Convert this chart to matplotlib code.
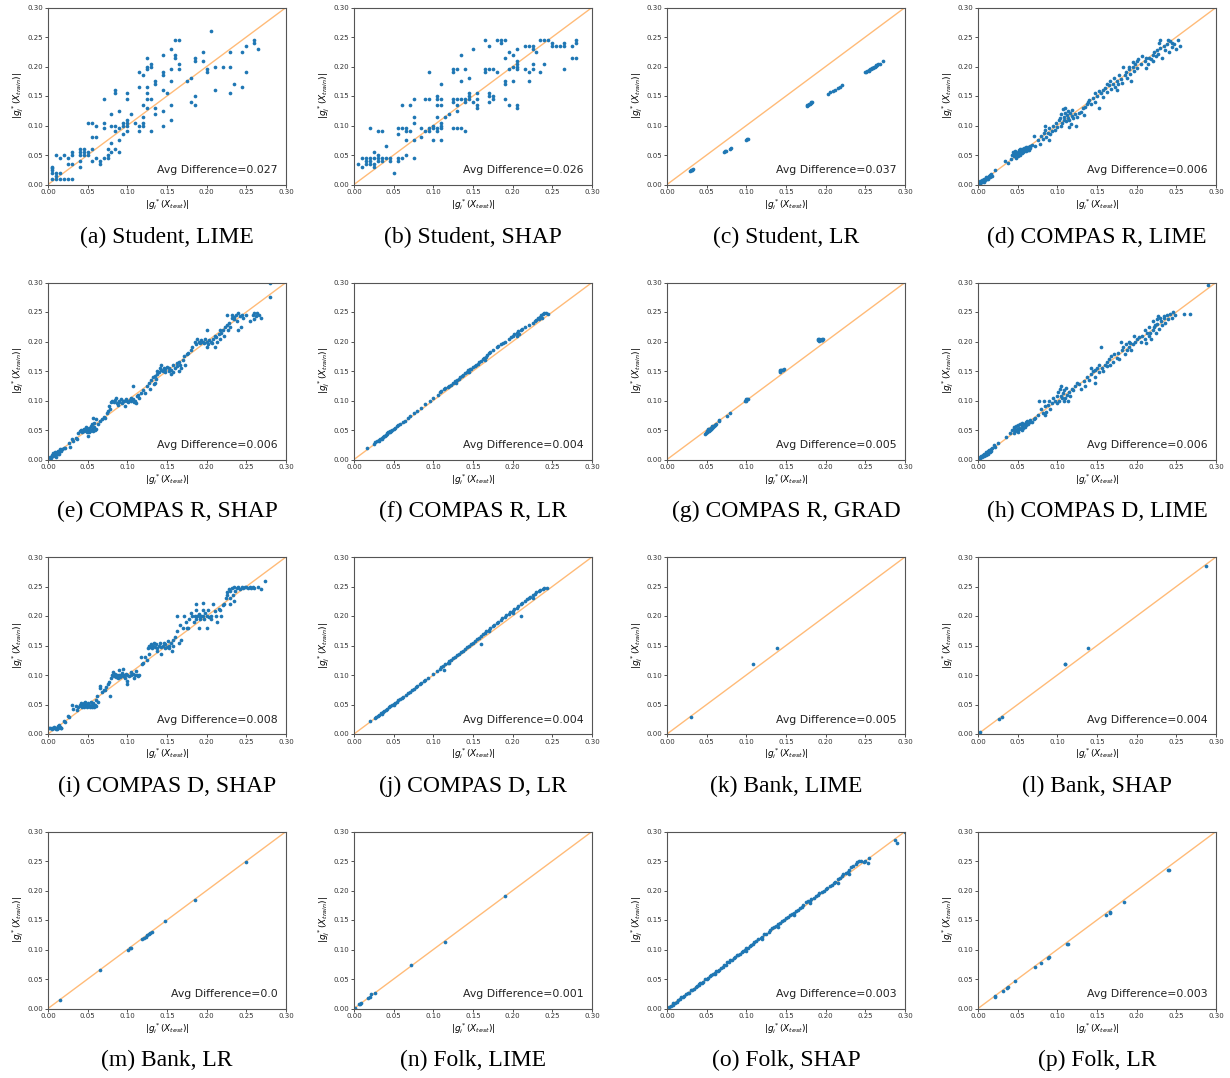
import matplotlib
matplotlib.use("Agg")
import matplotlib.pyplot as plt

captions = ["(a) Student, LIME", "(b) Student, SHAP", "(c) Student, LR", "(d) COMPAS R, LIME",
            "(e) COMPAS R, SHAP", "(f) COMPAS R, LR", "(g) COMPAS R, GRAD", "(h) COMPAS D, LIME",
            "(i) COMPAS D, SHAP", "(j) COMPAS D, LR", "(k) Bank, LIME", "(l) Bank, SHAP",
            "(m) Bank, LR", "(n) Folk, LIME", "(o) Folk, SHAP", "(p) Folk, LR"]
avg_diff = ["0.027", "0.026", "0.037", "0.006", "0.006", "0.004", "0.005", "0.006",
            "0.008", "0.004", "0.005", "0.004", "0.0", "0.001", "0.003", "0.003"]
ticks = [0.00, 0.05, 0.10, 0.15, 0.20, 0.25, 0.30]

pts_a = [(0.005,0.03),(0.005,0.028),(0.005,0.025),(0.005,0.02),(0.005,0.01),(0.01,0.05),(0.01,0.02),(0.01,0.015),(0.01,0.01),(0.015,0.045),(0.015,0.02),(0.015,0.01),(0.02,0.05),(0.02,0.01),(0.025,0.045),(0.025,0.035),(0.025,0.01),(0.03,0.055),(0.03,0.05),(0.03,0.035),(0.03,0.01),(0.04,0.06),(0.04,0.055),(0.04,0.05),(0.04,0.04),(0.04,0.03),(0.045,0.06),(0.045,0.055),(0.045,0.05),(0.05,0.055),(0.05,0.05),(0.05,0.105),(0.055,0.105),(0.055,0.08),(0.055,0.06),(0.055,0.04),(0.06,0.1),(0.06,0.08),(0.06,0.045),(0.065,0.04),(0.065,0.035),(0.07,0.145),(0.07,0.105),(0.07,0.095),(0.07,0.045),(0.075,0.06),(0.075,0.05),(0.075,0.045),(0.08,0.12),(0.08,0.1),(0.08,0.07),(0.08,0.055),(0.085,0.16),(0.085,0.155),(0.085,0.1),(0.085,0.09),(0.085,0.06),(0.09,0.125),(0.09,0.095),(0.09,0.075),(0.09,0.055),(0.095,0.105),(0.095,0.1),(0.095,0.085),(0.1,0.155),(0.1,0.145),(0.1,0.11),(0.1,0.105),(0.1,0.1),(0.1,0.09),(0.105,0.12),(0.11,0.105),(0.115,0.19),(0.115,0.165),(0.115,0.1),(0.115,0.09),(0.12,0.185),(0.12,0.135),(0.12,0.115),(0.12,0.105),(0.12,0.1),(0.125,0.215),(0.125,0.2),(0.125,0.195),(0.125,0.165),(0.125,0.155),(0.125,0.145),(0.125,0.13),(0.13,0.205),(0.13,0.2),(0.13,0.145),(0.13,0.09),(0.135,0.175),(0.135,0.17),(0.135,0.13),(0.135,0.12),(0.145,0.22),(0.145,0.19),(0.145,0.185),(0.145,0.16),(0.145,0.125),(0.145,0.1),(0.15,0.155),(0.155,0.23),(0.155,0.195),(0.155,0.175),(0.155,0.135),(0.155,0.11),(0.16,0.245),(0.16,0.22),(0.16,0.215),(0.165,0.245),(0.165,0.205),(0.165,0.195),(0.175,0.175),(0.18,0.18),(0.18,0.14),(0.185,0.215),(0.185,0.21),(0.185,0.15),(0.185,0.135),(0.195,0.225),(0.195,0.21),(0.2,0.195),(0.2,0.19),(0.205,0.26),(0.21,0.2),(0.21,0.16),(0.22,0.2),(0.23,0.225),(0.23,0.2),(0.23,0.155),(0.235,0.17),(0.245,0.225),(0.245,0.165),(0.25,0.235),(0.25,0.19),(0.26,0.245),(0.26,0.24),(0.265,0.23)]

pts_b = [(0.005,0.035),(0.01,0.045),(0.01,0.03),(0.015,0.045),(0.015,0.04),(0.015,0.035),(0.02,0.095),(0.02,0.045),(0.02,0.04),(0.02,0.035),(0.025,0.055),(0.025,0.045),(0.025,0.035),(0.025,0.03),(0.03,0.09),(0.03,0.05),(0.03,0.045),(0.03,0.04),(0.035,0.09),(0.035,0.045),(0.035,0.04),(0.04,0.065),(0.04,0.045),(0.045,0.045),(0.045,0.04),(0.05,0.02),(0.055,0.095),(0.055,0.085),(0.055,0.045),(0.055,0.04),(0.06,0.135),(0.06,0.095),(0.06,0.045),(0.065,0.095),(0.065,0.09),(0.065,0.075),(0.065,0.05),(0.07,0.135),(0.07,0.09),(0.075,0.145),(0.075,0.115),(0.075,0.105),(0.075,0.075),(0.075,0.045),(0.085,0.095),(0.085,0.08),(0.09,0.145),(0.09,0.09),(0.095,0.19),(0.095,0.145),(0.095,0.095),(0.095,0.09),(0.1,0.1),(0.1,0.095),(0.1,0.075),(0.105,0.15),(0.105,0.145),(0.105,0.135),(0.105,0.115),(0.105,0.095),(0.105,0.09),(0.11,0.17),(0.11,0.145),(0.11,0.135),(0.11,0.105),(0.11,0.1),(0.11,0.095),(0.11,0.075),(0.115,0.115),(0.12,0.12),(0.125,0.195),(0.125,0.19),(0.125,0.145),(0.125,0.14),(0.125,0.095),(0.13,0.195),(0.13,0.145),(0.13,0.135),(0.13,0.125),(0.13,0.095),(0.135,0.22),(0.135,0.175),(0.135,0.145),(0.135,0.095),(0.14,0.195),(0.14,0.145),(0.14,0.14),(0.14,0.09),(0.145,0.18),(0.145,0.155),(0.145,0.15),(0.145,0.145),(0.15,0.23),(0.15,0.14),(0.155,0.155),(0.155,0.145),(0.155,0.135),(0.155,0.13),(0.165,0.245),(0.165,0.195),(0.165,0.19),(0.17,0.235),(0.17,0.195),(0.17,0.155),(0.17,0.15),(0.17,0.14),(0.175,0.195),(0.175,0.15),(0.175,0.145),(0.18,0.245),(0.18,0.19),(0.185,0.245),(0.185,0.24),(0.19,0.245),(0.19,0.215),(0.19,0.175),(0.19,0.17),(0.19,0.145),(0.195,0.225),(0.195,0.195),(0.195,0.135),(0.2,0.22),(0.2,0.2),(0.2,0.175),(0.205,0.23),(0.205,0.21),(0.205,0.205),(0.205,0.2),(0.205,0.195),(0.205,0.135),(0.205,0.13),(0.215,0.235),(0.215,0.195),(0.22,0.235),(0.22,0.19),(0.22,0.175),(0.225,0.235),(0.225,0.23),(0.225,0.205),(0.225,0.195),(0.23,0.225),(0.235,0.245),(0.235,0.19),(0.24,0.245),(0.24,0.205),(0.245,0.245),(0.25,0.24),(0.25,0.235),(0.255,0.235),(0.26,0.235),(0.265,0.24),(0.265,0.235),(0.265,0.195),(0.275,0.235),(0.275,0.215),(0.28,0.245),(0.28,0.24),(0.28,0.215)]

pts_c = [(0.029,0.023),(0.030,0.024),(0.031,0.024),(0.032,0.025),(0.033,0.026),(0.072,0.055),(0.073,0.056),(0.074,0.057),(0.080,0.061),(0.081,0.062),(0.100,0.076),(0.101,0.077),(0.102,0.077),(0.176,0.133),(0.177,0.134),(0.178,0.135),(0.179,0.136),(0.180,0.137),(0.181,0.138),(0.182,0.139),(0.183,0.14),(0.203,0.154),(0.206,0.157),(0.209,0.159),(0.212,0.161),(0.215,0.164),(0.218,0.166),(0.221,0.168),(0.249,0.19),(0.251,0.191),(0.252,0.192),(0.254,0.193),(0.255,0.194),(0.256,0.195),(0.257,0.196),(0.258,0.197),(0.259,0.197),(0.26,0.198),(0.261,0.199),(0.262,0.2),(0.263,0.201),(0.264,0.202),(0.265,0.203),(0.266,0.204),(0.268,0.205),(0.272,0.209)]

pts_d = [(0.001,0.001),(0.002,0.003),(0.003,0.002),(0.004,0.005),(0.005,0.004),(0.006,0.007),(0.007,0.005),(0.008,0.009),(0.009,0.008),(0.01,0.012),(0.011,0.009),(0.012,0.013),(0.013,0.011),(0.014,0.015),(0.015,0.012),(0.016,0.018),(0.017,0.014),(0.005,0.008),(0.008,0.006),(0.012,0.01),(0.003,0.006),(0.015,0.016),(0.022,0.025),(0.018,0.015),
(0.034,0.04),(0.038,0.037),(0.043,0.05),(0.044,0.055),(0.045,0.048),(0.046,0.053),(0.047,0.057),(0.048,0.045),(0.049,0.05),(0.05,0.055),(0.051,0.052),(0.052,0.058),(0.053,0.05),(0.054,0.056),(0.055,0.053),(0.056,0.06),(0.057,0.055),(0.058,0.062),(0.059,0.058),(0.06,0.064),(0.061,0.057),(0.062,0.061),(0.063,0.063),(0.064,0.059),(0.065,0.066),(0.066,0.062),(0.068,0.067),(0.07,0.083),(0.072,0.065),(0.075,0.075),(0.045,0.052),(0.048,0.053),(0.05,0.048),(0.052,0.054),(0.055,0.057),(0.058,0.056),(0.06,0.06),(0.063,0.058),(0.042,0.043),(0.053,0.06),
(0.078,0.068),(0.08,0.082),(0.082,0.077),(0.083,0.087),(0.085,0.093),(0.086,0.08),(0.088,0.088),(0.09,0.095),(0.091,0.085),(0.093,0.091),(0.095,0.1),(0.097,0.092),(0.098,0.104),(0.1,0.097),(0.102,0.11),(0.085,0.1),(0.09,0.075),
(0.103,0.113),(0.105,0.12),(0.106,0.105),(0.107,0.128),(0.108,0.115),(0.109,0.11),(0.11,0.122),(0.111,0.107),(0.112,0.118),(0.113,0.113),(0.114,0.125),(0.115,0.11),(0.116,0.121),(0.117,0.103),(0.118,0.116),(0.119,0.127),(0.12,0.112),(0.122,0.12),(0.124,0.1),(0.125,0.115),(0.127,0.122),(0.13,0.123),(0.132,0.13),(0.133,0.118),(0.135,0.132),(0.137,0.137),(0.139,0.14),(0.105,0.1),(0.11,0.13),(0.115,0.098),
(0.14,0.143),(0.142,0.136),(0.145,0.147),(0.147,0.14),(0.148,0.155),(0.15,0.15),(0.152,0.158),(0.153,0.13),(0.155,0.155),(0.157,0.16),(0.158,0.148),(0.16,0.163),(0.162,0.17),(0.163,0.157),(0.165,0.168),(0.167,0.175),(0.168,0.162),(0.17,0.17),(0.172,0.18),(0.173,0.165),(0.175,0.175),(0.177,0.17),(0.178,0.185),(0.18,0.178),(0.182,0.172),(0.183,0.2),(0.185,0.185),(0.187,0.19),(0.188,0.18),(0.19,0.195),(0.192,0.188),(0.193,0.175),(0.195,0.2),(0.197,0.192),(0.198,0.205),(0.2,0.198),(0.195,0.208),(0.19,0.2),(0.2,0.21),(0.175,0.16),
(0.202,0.213),(0.205,0.205),(0.207,0.218),(0.21,0.21),(0.212,0.215),(0.214,0.205),(0.216,0.215),(0.218,0.212),(0.22,0.22),(0.222,0.225),(0.224,0.218),(0.225,0.228),(0.227,0.222),(0.228,0.24),(0.23,0.232),(0.232,0.215),(0.234,0.235),(0.236,0.228),(0.238,0.238),(0.24,0.245),(0.241,0.225),(0.242,0.243),(0.244,0.24),(0.245,0.233),(0.247,0.238),(0.25,0.23),(0.252,0.245),(0.254,0.235),(0.212,0.198),(0.22,0.21),(0.23,0.245)]

pts_e = [(0.002,0.002),(0.003,0.005),(0.004,0.003),(0.005,0.008),(0.006,0.006),(0.007,0.01),(0.008,0.007),(0.009,0.012),(0.01,0.009),(0.011,0.013),(0.012,0.01),(0.013,0.015),(0.014,0.012),(0.015,0.017),(0.016,0.014),(0.017,0.016),(0.018,0.018),(0.01,0.005),(0.006,0.011),(0.014,0.009),(0.02,0.02),(0.022,0.02),
(0.026,0.028),(0.028,0.022),(0.03,0.035),(0.032,0.032),(0.035,0.037),(0.037,0.035),(0.038,0.045),
(0.04,0.048),(0.042,0.05),(0.043,0.046),(0.045,0.052),(0.046,0.048),(0.047,0.05),(0.048,0.055),(0.049,0.047),(0.05,0.051),(0.051,0.04),(0.052,0.053),(0.053,0.049),(0.054,0.056),(0.055,0.05),(0.056,0.052),(0.057,0.048),(0.058,0.055),(0.059,0.05),(0.06,0.051),(0.058,0.062),(0.057,0.07),(0.055,0.06),(0.06,0.069),(0.044,0.05),(0.048,0.05),(0.052,0.047),
(0.063,0.06),(0.065,0.065),(0.068,0.068),(0.07,0.072),(0.072,0.07),(0.074,0.078),(0.075,0.082),(0.077,0.09),(0.078,0.085),
(0.08,0.098),(0.081,0.1),(0.083,0.097),(0.085,0.101),(0.086,0.104),(0.087,0.096),(0.089,0.1),(0.09,0.098),(0.092,0.102),(0.093,0.095),(0.095,0.1),(0.096,0.099),(0.098,0.103),(0.1,0.1),(0.101,0.097),(0.103,0.101),(0.104,0.104),(0.105,0.099),(0.107,0.102),(0.108,0.098),(0.11,0.1),(0.111,0.095),(0.112,0.107),(0.113,0.11),(0.115,0.105),(0.117,0.112),(0.12,0.118),(0.122,0.112),(0.107,0.125),(0.097,0.09),(0.088,0.093),
(0.125,0.125),(0.127,0.13),(0.128,0.12),(0.13,0.135),(0.132,0.14),(0.133,0.128),(0.135,0.142),(0.136,0.137),(0.137,0.145),(0.138,0.15),(0.14,0.148),(0.141,0.155),(0.142,0.152),(0.143,0.16),(0.145,0.15),(0.146,0.155),(0.147,0.148),(0.148,0.153),(0.15,0.157),(0.152,0.15),(0.153,0.155),(0.155,0.152),(0.157,0.16),(0.158,0.148),(0.16,0.155),(0.162,0.163),(0.163,0.158),(0.165,0.165),(0.167,0.16),(0.168,0.155),(0.17,0.168),(0.172,0.175),(0.173,0.16),(0.175,0.178),(0.177,0.18),(0.18,0.185),(0.182,0.19),(0.185,0.2),(0.135,0.13),(0.155,0.145),(0.165,0.15),
(0.187,0.195),(0.188,0.205),(0.19,0.2),(0.192,0.198),(0.193,0.202),(0.195,0.2),(0.197,0.197),(0.198,0.205),(0.2,0.22),(0.2,0.2),(0.202,0.195),(0.203,0.203),(0.205,0.2),(0.207,0.198),(0.208,0.205),(0.21,0.21),(0.212,0.207),(0.213,0.2),(0.215,0.212),(0.217,0.205),(0.218,0.215),(0.22,0.22),(0.222,0.21),(0.223,0.225),(0.225,0.228),(0.227,0.22),(0.228,0.232),(0.23,0.225),(0.225,0.245),(0.232,0.24),(0.2,0.19),(0.21,0.19),(0.217,0.22),
(0.232,0.245),(0.234,0.238),(0.235,0.242),(0.237,0.245),(0.238,0.235),(0.24,0.248),(0.242,0.243),(0.243,0.225),(0.245,0.245),(0.246,0.24),(0.25,0.245),(0.255,0.235),(0.258,0.245),(0.26,0.248),(0.262,0.243),(0.264,0.248),(0.266,0.245),(0.268,0.24),(0.26,0.238),(0.28,0.275),(0.28,0.3),(0.24,0.22)]

pts_f = [(0.017,0.019),(0.025,0.027),(0.027,0.029),(0.029,0.031),(0.031,0.033),(0.033,0.035),(0.035,0.037),(0.036,0.038),(0.038,0.04),(0.04,0.042),(0.041,0.043),(0.042,0.045),(0.043,0.046),(0.044,0.047),(0.046,0.048),(0.047,0.049),(0.048,0.05),(0.05,0.052),(0.052,0.054),(0.054,0.056),(0.056,0.058),(0.058,0.06),(0.062,0.064),(0.064,0.066),(0.068,0.07),(0.07,0.073),(0.075,0.078),(0.08,0.083),(0.084,0.087),(0.09,0.094),(0.096,0.1),(0.1,0.104),(0.106,0.11),(0.108,0.115),(0.11,0.116),(0.113,0.119),(0.115,0.121),(0.118,0.123),(0.12,0.125),(0.122,0.127),(0.125,0.13),(0.127,0.133),(0.13,0.135),(0.132,0.137),(0.134,0.14),(0.136,0.142),(0.138,0.144),(0.14,0.147),(0.142,0.149),(0.144,0.151),(0.146,0.153),(0.148,0.154),(0.15,0.156),(0.152,0.158),(0.154,0.16),(0.156,0.162),(0.158,0.165),(0.16,0.167),(0.162,0.17),(0.164,0.172),(0.166,0.174),(0.168,0.177),(0.17,0.18),(0.172,0.182),(0.175,0.185),(0.18,0.19),(0.182,0.193),(0.185,0.195),(0.188,0.198),(0.19,0.2),(0.195,0.205),(0.198,0.208),(0.2,0.21),(0.202,0.213),(0.205,0.215),(0.207,0.218),(0.21,0.22),(0.212,0.222),(0.215,0.225),(0.22,0.228),(0.225,0.232),(0.228,0.235),(0.23,0.237),(0.232,0.24),(0.234,0.242),(0.236,0.245),(0.238,0.247),(0.24,0.249),(0.242,0.248),(0.245,0.247),(0.237,0.24),(0.233,0.238),(0.208,0.213),(0.205,0.21),(0.165,0.169),(0.145,0.148),(0.128,0.13),(0.045,0.046),(0.039,0.04),(0.035,0.035),(0.032,0.032)]

pts_g = [(0.048,0.043),(0.049,0.045),(0.05,0.046),(0.051,0.047),(0.052,0.048),(0.053,0.049),(0.054,0.05),(0.055,0.051),(0.056,0.052),(0.057,0.053),(0.058,0.055),(0.059,0.056),(0.06,0.058),(0.061,0.059),(0.062,0.06),(0.053,0.052),(0.055,0.054),(0.057,0.056),(0.05,0.049),(0.052,0.051),(0.065,0.066),(0.066,0.067),(0.075,0.074),(0.079,0.079),(0.098,0.1),(0.099,0.101),(0.1,0.102),(0.101,0.103),(0.102,0.103),(0.1,0.1),(0.142,0.15),(0.143,0.151),(0.144,0.152),(0.145,0.151),(0.146,0.152),(0.147,0.153),(0.142,0.149),(0.19,0.202),(0.191,0.203),(0.192,0.204),(0.193,0.202),(0.194,0.203),(0.195,0.204),(0.196,0.203),(0.19,0.204),(0.192,0.201),(0.195,0.202),(0.197,0.204)]

pts_h = [(0.001,0.001),(0.002,0.004),(0.003,0.002),(0.004,0.006),(0.005,0.004),(0.006,0.008),(0.007,0.006),(0.008,0.01),(0.009,0.008),(0.01,0.012),(0.011,0.01),(0.012,0.014),(0.013,0.012),(0.014,0.016),(0.015,0.013),(0.016,0.018),(0.017,0.015),(0.018,0.02),(0.02,0.025),(0.022,0.022),(0.025,0.028),(0.01,0.007),(0.012,0.009),
(0.035,0.038),(0.04,0.045),(0.043,0.05),(0.045,0.052),(0.046,0.055),(0.047,0.048),(0.048,0.057),(0.049,0.052),(0.05,0.05),(0.051,0.058),(0.052,0.054),(0.053,0.06),(0.054,0.051),(0.055,0.056),(0.056,0.062),(0.057,0.053),(0.058,0.06),(0.059,0.055),(0.06,0.063),(0.061,0.058),(0.062,0.065),(0.063,0.06),(0.065,0.063),(0.066,0.067),(0.068,0.064),(0.07,0.068),(0.072,0.07),(0.075,0.075),(0.05,0.047),(0.045,0.045),(0.055,0.05),
(0.077,0.1),(0.08,0.085),(0.082,0.078),(0.083,0.1),(0.085,0.09),(0.086,0.08),(0.088,0.092),(0.09,0.1),(0.091,0.085),(0.093,0.095),(0.095,0.105),(0.097,0.1),(0.099,0.095),(0.1,0.108),(0.085,0.075),
(0.101,0.115),(0.102,0.1),(0.103,0.12),(0.104,0.108),(0.105,0.125),(0.106,0.105),(0.107,0.113),(0.108,0.1),(0.109,0.118),(0.11,0.105),(0.111,0.122),(0.112,0.11),(0.113,0.1),(0.115,0.115),(0.116,0.108),(0.118,0.12),(0.12,0.117),(0.122,0.125),(0.125,0.13),(0.127,0.128),(0.13,0.12),(0.133,0.133),(0.135,0.125),(0.137,0.14),(0.14,0.135),
(0.142,0.145),(0.143,0.155),(0.145,0.15),(0.147,0.152),(0.148,0.13),(0.15,0.155),(0.152,0.148),(0.153,0.16),(0.155,0.19),(0.156,0.155),(0.158,0.15),(0.16,0.16),(0.162,0.165),(0.163,0.158),(0.165,0.17),(0.167,0.16),(0.168,0.175),(0.17,0.165),(0.172,0.178),(0.175,0.172),(0.177,0.18),(0.178,0.17),(0.18,0.2),(0.182,0.185),(0.183,0.19),(0.185,0.178),(0.187,0.195),(0.188,0.185),(0.19,0.19),(0.192,0.198),(0.193,0.185),(0.195,0.195),(0.197,0.21),(0.198,0.2),(0.2,0.205),(0.19,0.2),(0.148,0.14),
(0.203,0.208),(0.205,0.2),(0.207,0.21),(0.21,0.205),(0.212,0.198),(0.213,0.215),(0.215,0.21),(0.216,0.225),(0.217,0.215),(0.218,0.205),(0.22,0.22),(0.222,0.225),(0.223,0.228),(0.224,0.215),(0.225,0.238),(0.226,0.23),(0.227,0.243),(0.228,0.222),(0.23,0.24),(0.231,0.235),(0.232,0.228),(0.234,0.243),(0.235,0.24),(0.236,0.232),(0.238,0.245),(0.24,0.238),(0.242,0.247),(0.244,0.24),(0.246,0.25),(0.248,0.245),(0.26,0.246),(0.267,0.246),(0.29,0.295),(0.21,0.22),(0.22,0.235)]

pts_i = [(0.001,0.01),(0.003,0.011),(0.005,0.009),(0.007,0.012),(0.008,0.01),(0.01,0.011),(0.011,0.009),(0.012,0.013),(0.013,0.01),(0.014,0.015),(0.015,0.012),(0.016,0.01),(0.017,0.011),(0.005,0.01),(0.01,0.008),(0.02,0.022),(0.022,0.02),(0.025,0.03),(0.027,0.028),(0.03,0.05),(0.032,0.042),(0.035,0.048),(0.036,0.04),
(0.038,0.045),(0.04,0.05),(0.041,0.048),(0.042,0.053),(0.043,0.046),(0.044,0.05),(0.045,0.052),(0.046,0.048),(0.047,0.055),(0.048,0.05),(0.049,0.045),(0.05,0.052),(0.051,0.048),(0.052,0.05),(0.053,0.046),(0.054,0.055),(0.055,0.05),(0.056,0.048),(0.057,0.053),(0.058,0.045),(0.059,0.05),(0.06,0.048),(0.061,0.058),(0.062,0.065),(0.063,0.055),(0.065,0.082),(0.066,0.078),(0.068,0.072),(0.07,0.075),(0.072,0.075),(0.073,0.08),(0.075,0.085),(0.077,0.088),(0.078,0.065),(0.045,0.045),(0.055,0.045),
(0.08,0.095),(0.081,0.1),(0.082,0.105),(0.083,0.098),(0.084,0.1),(0.085,0.102),(0.086,0.097),(0.087,0.1),(0.088,0.095),(0.089,0.108),(0.09,0.1),(0.091,0.097),(0.092,0.1),(0.093,0.103),(0.094,0.098),(0.095,0.11),(0.096,0.1),(0.097,0.095),(0.098,0.102),(0.099,0.09),(0.1,0.085),(0.1,0.1),(0.102,0.098),(0.104,0.105),(0.105,0.1),(0.107,0.102),(0.108,0.095),(0.11,0.1),(0.111,0.107),(0.112,0.1),(0.113,0.098),(0.115,0.1),(0.117,0.13),(0.118,0.118),(0.12,0.12),(0.122,0.13),(0.125,0.125),(0.127,0.135),
(0.126,0.145),(0.127,0.15),(0.128,0.148),(0.13,0.152),(0.131,0.145),(0.132,0.15),(0.133,0.155),(0.135,0.148),(0.136,0.152),(0.137,0.145),(0.138,0.14),(0.14,0.15),(0.141,0.155),(0.142,0.148),(0.143,0.135),(0.145,0.15),(0.146,0.155),(0.147,0.145),(0.148,0.152),(0.15,0.148),(0.151,0.158),(0.152,0.145),(0.153,0.15),(0.155,0.155),(0.156,0.14),(0.157,0.16),(0.158,0.15),(0.16,0.165),(0.162,0.2),(0.163,0.175),(0.165,0.155),(0.166,0.185),(0.168,0.16),(0.17,0.18),(0.172,0.2),(0.174,0.19),(0.175,0.18),(0.177,0.18),
(0.178,0.195),(0.18,0.205),(0.182,0.2),(0.184,0.19),(0.185,0.2),(0.186,0.21),(0.187,0.195),(0.188,0.2),(0.19,0.203),(0.191,0.198),(0.192,0.195),(0.193,0.2),(0.195,0.21),(0.196,0.2),(0.197,0.195),(0.198,0.205),(0.2,0.2),(0.201,0.18),(0.202,0.21),(0.203,0.198),(0.205,0.2),(0.206,0.195),(0.208,0.22),(0.21,0.208),(0.212,0.2),(0.213,0.19),(0.215,0.212),(0.217,0.21),(0.218,0.2),(0.22,0.218),(0.222,0.22),(0.224,0.23),(0.186,0.22),(0.196,0.222),(0.19,0.18),
(0.225,0.24),(0.226,0.235),(0.228,0.245),(0.229,0.23),(0.23,0.243),(0.232,0.248),(0.233,0.235),(0.235,0.25),(0.236,0.242),(0.238,0.248),(0.24,0.25),(0.242,0.245),(0.244,0.25),(0.246,0.248),(0.248,0.25),(0.25,0.25),(0.252,0.247),(0.254,0.25),(0.256,0.248),(0.258,0.25),(0.26,0.248),(0.265,0.25),(0.268,0.245),(0.273,0.26),(0.23,0.22),(0.235,0.225)]

pts_j = [(0.02,0.022),(0.026,0.027),(0.028,0.029),(0.03,0.031),(0.032,0.033),(0.034,0.035),(0.036,0.037),(0.038,0.039),(0.04,0.041),(0.042,0.043),(0.044,0.045),(0.046,0.047),(0.048,0.049),(0.05,0.051),(0.052,0.053),(0.054,0.055),(0.056,0.057),(0.058,0.059),(0.06,0.061),(0.062,0.063),(0.065,0.066),(0.068,0.069),(0.07,0.071),(0.073,0.074),(0.075,0.077),(0.078,0.08),(0.08,0.082),(0.083,0.085),(0.085,0.087),(0.088,0.09),(0.09,0.092),(0.093,0.095),(0.1,0.102),(0.105,0.107),(0.108,0.11),(0.11,0.113),(0.112,0.115),(0.115,0.118),(0.118,0.121),(0.12,0.124),(0.122,0.126),(0.125,0.129),(0.127,0.131),(0.13,0.134),(0.132,0.136),(0.135,0.139),(0.137,0.141),(0.14,0.144),(0.142,0.147),(0.145,0.15),(0.147,0.152),(0.15,0.155),(0.152,0.158),(0.155,0.161),(0.157,0.163),(0.16,0.166),(0.162,0.169),(0.165,0.172),(0.167,0.174),(0.17,0.177),(0.172,0.18),(0.175,0.183),(0.177,0.185),(0.18,0.188),(0.182,0.19),(0.185,0.193),(0.187,0.196),(0.19,0.199),(0.192,0.201),(0.195,0.204),(0.197,0.206),(0.2,0.209),(0.202,0.212),(0.205,0.214),(0.207,0.217),(0.21,0.22),(0.212,0.222),(0.215,0.225),(0.218,0.228),(0.22,0.23),(0.222,0.232),(0.225,0.235),(0.228,0.238),(0.23,0.24),(0.233,0.242),(0.235,0.244),(0.238,0.246),(0.24,0.247),(0.243,0.248),(0.114,0.109),(0.16,0.153),(0.21,0.2),(0.035,0.034),(0.05,0.049),(0.12,0.12),(0.17,0.175),(0.2,0.205),(0.225,0.23)]

pts_k = [(0.03,0.028),(0.109,0.118),(0.139,0.146)]
pts_l = [(0.003,0.003),(0.027,0.025),(0.03,0.028),(0.11,0.118),(0.11,0.119),(0.139,0.146),(0.288,0.284)]
pts_m = [(0.015,0.014),(0.066,0.066),(0.101,0.1),(0.103,0.102),(0.104,0.103),(0.118,0.118),(0.121,0.12),(0.123,0.122),(0.125,0.124),(0.127,0.126),(0.129,0.128),(0.131,0.13),(0.148,0.148),(0.185,0.184),(0.25,0.249)]
pts_n = [(0.001,0.001),(0.006,0.007),(0.008,0.008),(0.009,0.009),(0.018,0.017),(0.02,0.02),(0.022,0.024),(0.026,0.027),(0.072,0.073),(0.115,0.112),(0.19,0.19)]
pts_o = [(0.003,0.003),(0.005,0.005),(0.007,0.006),(0.008,0.009),(0.01,0.01),(0.012,0.011),(0.014,0.015),(0.016,0.016),(0.018,0.019),(0.02,0.02),(0.022,0.021),(0.024,0.025),(0.026,0.026),(0.028,0.027),(0.03,0.031),(0.032,0.032),(0.034,0.033),(0.036,0.037),(0.038,0.038),(0.04,0.039),(0.042,0.043),(0.044,0.044),(0.046,0.045),(0.048,0.05),(0.05,0.05),(0.052,0.051),(0.054,0.055),(0.056,0.056),(0.058,0.058),(0.06,0.06),(0.062,0.063),(0.064,0.064),(0.066,0.065),(0.068,0.069),(0.07,0.07),(0.072,0.073),(0.074,0.074),(0.076,0.078),(0.078,0.079),(0.08,0.082),(0.082,0.083),(0.084,0.086),(0.086,0.087),(0.088,0.09),(0.09,0.091),(0.092,0.093),(0.094,0.096),(0.096,0.097),(0.098,0.1),(0.1,0.102),(0.102,0.103),(0.104,0.106),(0.106,0.107),(0.108,0.11),(0.11,0.112),(0.112,0.114),(0.115,0.117),(0.118,0.12),(0.12,0.122),(0.122,0.126),(0.125,0.127),(0.128,0.13),(0.13,0.133),(0.132,0.136),(0.135,0.138),(0.138,0.14),(0.14,0.143),(0.142,0.145),(0.145,0.148),(0.148,0.15),(0.15,0.153),(0.152,0.155),(0.155,0.158),(0.158,0.16),(0.16,0.162),(0.162,0.165),(0.165,0.167),(0.168,0.17),(0.17,0.172),(0.172,0.175),(0.175,0.18),(0.178,0.182),(0.18,0.183),(0.182,0.185),(0.185,0.188),(0.188,0.19),(0.19,0.192),(0.192,0.195),(0.195,0.198),(0.198,0.2),(0.2,0.202),(0.202,0.205),(0.205,0.208),(0.208,0.21),(0.21,0.213),(0.212,0.215),(0.215,0.22),(0.218,0.222),(0.22,0.225),(0.222,0.228),(0.225,0.23),(0.228,0.232),(0.23,0.235),(0.232,0.24),(0.235,0.242),(0.238,0.245),(0.24,0.248),(0.242,0.25),(0.245,0.25),(0.248,0.248),(0.25,0.25),(0.253,0.247),(0.255,0.255),(0.288,0.285),(0.29,0.28),(0.3,0.3),(0.1,0.098),(0.12,0.118),(0.14,0.138),(0.16,0.158),(0.18,0.178),(0.06,0.058),(0.04,0.041),(0.215,0.212),(0.23,0.228)]
pts_p = [(0.021,0.02),(0.022,0.021),(0.031,0.03),(0.037,0.035),(0.038,0.036),(0.047,0.046),(0.072,0.07),(0.079,0.077),(0.088,0.086),(0.089,0.087),(0.112,0.109),(0.113,0.11),(0.161,0.158),(0.166,0.162),(0.167,0.164),(0.184,0.18),(0.24,0.235),(0.241,0.235)]

panels = [pts_a, pts_b, pts_c, pts_d, pts_e, pts_f, pts_g, pts_h,
          pts_i, pts_j, pts_k, pts_l, pts_m, pts_n, pts_o, pts_p]

W, H = 1230, 1078
fig = plt.figure(figsize=(W / 100, H / 100), dpi=100)
col_left = [48, 354, 667, 978]
row_top = [7.5, 282.5, 557, 831.5]
aw, ah = 238, 177
cap_y = [237, 511, 786, 1060]

for idx, pts in enumerate(panels):
    r, c = divmod(idx, 4)
    left = col_left[c]
    top = row_top[r]
    ax = fig.add_axes([left / W, 1 - (top + ah) / H, aw / W, ah / H])
    xs = [p[0] for p in pts]
    ys = [p[1] for p in pts]
    ax.plot([0, 0.3], [0, 0.3], color="#ffbb78", lw=1.0, zorder=1)
    ax.scatter(xs, ys, s=7, color="#1f77b4", zorder=2, linewidths=0)
    ax.set_xlim(0, 0.3)
    ax.set_ylim(0, 0.3)
    ax.set_xticks(ticks)
    ax.set_yticks(ticks)
    ax.set_xticklabels([f"{t:.2f}" for t in ticks])
    ax.set_yticklabels([f"{t:.2f}" for t in ticks])
    ax.tick_params(labelsize=5, length=2, width=0.6, pad=1.5, colors="#333333")
    for sp in ax.spines.values():
        sp.set_linewidth(0.8)
        sp.set_color("#555555")
    ax.set_xlabel(r"$|g_i^*(X_{test})|$", fontsize=6.5, labelpad=1)
    ax.set_ylabel(r"$|g_j^*(X_{train})|$", fontsize=6.5, labelpad=1)
    ax.text(0.965, 0.08, f"Avg Difference={avg_diff[idx]}", transform=ax.transAxes,
            ha="right", va="center", fontsize=7.8, color="#222222")
    fig.text((left + aw / 2) / W, 1 - cap_y[r] / H, captions[idx], ha="center", va="center",
             fontsize=17, family="Liberation Serif")

fig.savefig("out.png", dpi=100)
